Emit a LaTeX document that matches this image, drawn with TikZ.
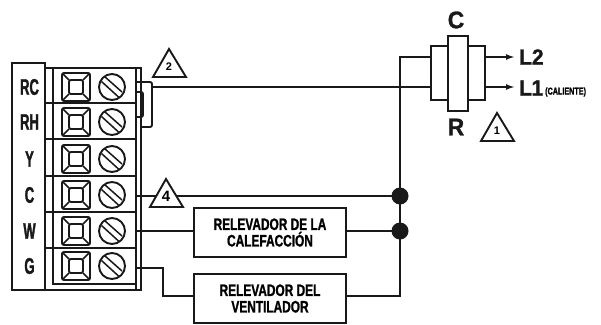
\documentclass[tikz,border=0pt]{standalone}
\usepackage{fontspec}
\setmainfont{Liberation Sans}
\newfontfamily\labelfont{Liberation Sans Bold}[FakeStretch=0.72,FakeBold=1.2]
\newfontfamily\termfont{Liberation Sans Bold}[FakeStretch=0.58,FakeBold=1.5]
\newfontfamily\widefont{Liberation Sans Bold}[FakeStretch=0.95,FakeBold=1.2]
\newfontfamily\numfont{Liberation Sans Bold}
\usetikzlibrary{arrows.meta}
\tikzset{x=1pt,y=-1pt,
 ln/.style={draw=black!90,line width=1.9pt},
 thin ln/.style={draw=black!90,line width=1.5pt},
 relay/.style={ln,fill=white,inner sep=0pt,minimum width=152pt,minimum height=49pt,align=center,font=\labelfont\fontsize{16.5}{16.5}\selectfont},
 term/.style={text=black!90,font=\termfont\fontsize{22.5}{22.5}\selectfont,inner sep=0pt},
 big/.style={text=black!90,font=\widefont\fontsize{24}{24}\selectfont,inner sep=0pt},
 line lab/.style={text=black!90,font=\widefont\fontsize{22}{22}\selectfont,inner sep=0pt},
 tri/.style={ln,fill=white,line join=miter},
 trilab/.style={font=\numfont\fontsize{11}{11}\selectfont,inner sep=0pt},
 dot/.style={circle,fill=black!90,inner sep=0pt,minimum size=17pt},
 arr/.style={ln,-{Latex[length=9pt,width=6pt]}}}
\newcommand{\termrow}[1]{%
 \draw[ln,rounded corners=2pt] (62,#1-14) rectangle (90,#1+14);
 \draw[ln,rounded corners=2pt] (69,#1-7) rectangle (83,#1+7);
 \draw[thin ln] (63,#1-13)--(69,#1-7) (89,#1-13)--(83,#1-7) (63,#1+13)--(69,#1+7) (89,#1+13)--(83,#1+7);
 \draw[ln] (112,#1) circle (13);
 \draw[thin ln] (104.5,#1-10.5)--(122,#1+5) (101.5,#1-5.5)--(118.5,#1+10);
}
\begin{document}
\begin{tikzpicture}
\useasboundingbox (0,0) rectangle (601,324);
\fill[white] (0,0) rectangle (601,324);
% strip
\draw[ln] (45,68)--(141,68)--(141,290)--(45,290);
\draw[ln] (53,68)--(53,284)--(136,284);
\draw[ln] (136,68)--(136,290);
\draw[ln] (45,103)--(136,103) (45,139)--(136,139) (45,176)--(136,176) (45,212)--(136,212) (45,248)--(136,248);
\draw[ln,line width=2.2pt] (12,63) rectangle (45,290);
\termrow{87}\termrow{122}\termrow{159}\termrow{195}\termrow{231}\termrow{266}
% labels
\node[term] (lrc) at (29.5,87) {RC};
\node[term] (lrh) at (29.5,122) {RH};
\node[term] (ly) at (29.5,159) {Y};
\node[term] (lc) at (29.5,195) {C};
\node[term] (lw) at (29.5,231) {W};
\node[term] (lg) at (29.5,266) {G};
% jumper
\draw[ln,rounded corners=2pt] (136,82)--(152,82)--(152,127)--(141,127);
\draw[ln,rounded corners=2pt] (136,92)--(143,92)--(143,117)--(136,117);
% capacitor
\node[ln,fill=white,minimum width=54pt,minimum height=54pt,inner sep=0pt] (capo) at (458,73) {};
\node[ln,fill=white,minimum width=20pt,minimum height=75pt,inner sep=0pt] (capi) at (458,73.5) {};
\node[big] (cc) at (456,20) {C};
\node[big] (rr) at (456,127) {R};
% relays
\node[relay] (r1) at (270,232.5) {RELEVADOR DE LA\\CALEFACCIÓN};
\node[relay] (r2) at (270,298.5) {RELEVADOR DEL\\VENTILADOR};
% dots
\node[dot] (d1) at (400,196) {};
\node[dot] (d2) at (400,231) {};
\coordinate (top) at (400,57);
\coordinate (bot) at (400,296);
\coordinate (jm) at (152,87);
\coordinate (rc4) at (136,196);
\coordinate (rw) at (136,231);
\coordinate (rg) at (136,268);
\coordinate (e2) at (515,57);
\coordinate (e1) at (515,87);
\draw[ln] (jm)--(431,87);
\draw[ln] (431,57)--(top)--(bot)--(r2.east |- bot);
\draw[ln] (rc4)--(d1.center);
\draw[ln] (rw)--(r1.west |- rw);
\draw[ln] (r1.east |- d2)--(d2.center);
\draw[ln] (rg)--(163,268)--(163,296)--(r2.west |- bot);
\draw[arr] (485,57)--(e2);
\draw[arr] (485,87)--(e1);
% triangles
\draw[tri] (169,49)--(186,77)--(153,77)--cycle;
\node[trilab] (t2) at (169,67) {2};
\draw[tri] (166,179)--(183,207)--(150,207)--cycle;
\node[trilab,font=\numfont\fontsize{15}{15}\selectfont] (t4) at (166,196.5) {4};
\draw[tri] (497,113)--(514,141)--(481,141)--cycle;
\node[trilab] (t1) at (497,131) {1};
% line labels
\node[line lab,anchor=west] (l2) at (519,57) {L2};
\node[line lab,anchor=west] (l1) at (519,88) {L\kern-0.5pt 1};
\node[anchor=west,inner sep=0pt,font=\labelfont\fontsize{10}{10}\selectfont] (cal) at (545,92) {(CALIENTE)};
\end{tikzpicture}
\end{document}
